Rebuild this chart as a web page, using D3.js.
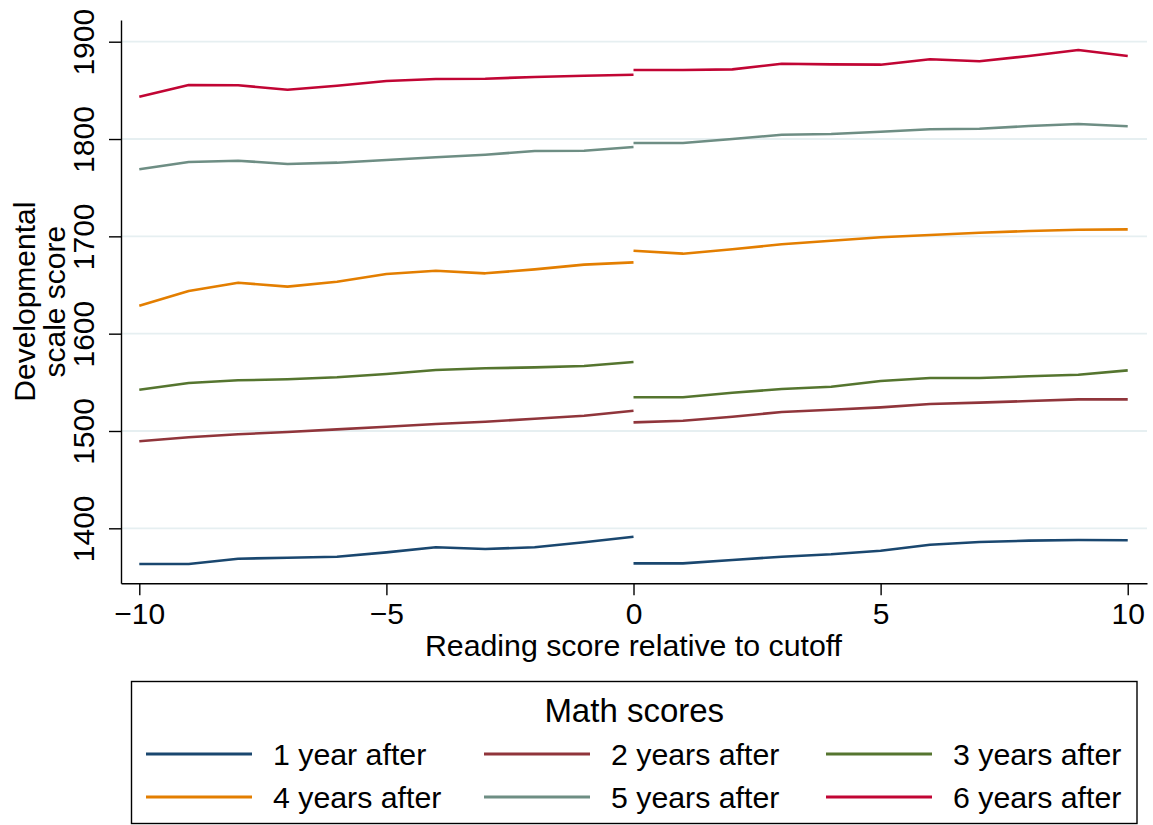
<!DOCTYPE html>
<html>
<head>
<meta charset="utf-8">
<script src="https://cdn.jsdelivr.net/npm/d3@7"></script>
<style>
  html, body { margin: 0; padding: 0; background: #fff; }
  svg { display: block; font-family: "Liberation Sans", Arial, Helvetica, sans-serif; }
</style>
</head>
<body>
<svg id="chart" width="1153" height="825"></svg>
<script>
// ---- Data ----
const xLeft  = [-10, -9, -8, -7, -6, -5, -4, -3, -2, -1, 0];
const xRight = [0, 1, 2, 3, 4, 5, 6, 7, 8, 9, 10];

const y1Left  = [1363.3, 1363.3, 1368.8, 1369.8, 1370.8, 1375.3, 1380.5, 1378.7, 1380.5, 1385.6, 1391.4];
const y1Right = [1364.0, 1364.0, 1367.4, 1370.8, 1373.3, 1377.0, 1383.1, 1385.9, 1387.3, 1388.0, 1387.7];

const y2Left  = [1489.4, 1493.5, 1496.6, 1499.0, 1501.7, 1504.4, 1507.2, 1509.5, 1512.6, 1515.7, 1520.8];
const y2Right = [1508.9, 1510.6, 1514.7, 1519.5, 1521.8, 1524.3, 1527.7, 1529.1, 1530.8, 1532.5, 1532.5];

const y3Left  = [1542.4, 1549.3, 1552.1, 1553.1, 1555.2, 1558.6, 1562.7, 1564.4, 1565.4, 1566.8, 1570.9];
const y3Right = [1534.6, 1534.6, 1539.3, 1543.1, 1545.5, 1551.4, 1554.4, 1554.4, 1556.2, 1557.8, 1562.3];

const y4Left  = [1628.7, 1643.8, 1652.4, 1648.3, 1653.4, 1661.3, 1664.7, 1662.0, 1666.1, 1670.9, 1673.3];
const y4Right = [1685.2, 1682.2, 1686.7, 1691.8, 1695.5, 1699.0, 1701.4, 1703.7, 1705.5, 1706.8, 1707.2];

const y5Left  = [1768.9, 1776.4, 1777.7, 1774.3, 1775.7, 1778.4, 1781.2, 1783.9, 1787.7, 1788.0, 1791.8];
const y5Right = [1795.9, 1795.9, 1800.0, 1804.4, 1805.2, 1807.5, 1810.0, 1810.6, 1813.4, 1815.4, 1813.1];

const y6Left  = [1843.5, 1855.5, 1855.2, 1850.7, 1854.8, 1859.6, 1861.7, 1862.0, 1863.7, 1865.0, 1866.1];
const y6Right = [1870.9, 1870.9, 1871.6, 1877.4, 1876.7, 1876.4, 1881.9, 1879.9, 1885.3, 1891.5, 1885.3];

const seriesNames = ["1 year after", "2 years after", "3 years after",
                     "4 years after", "5 years after", "6 years after"];
const seriesColors = ["#1a476f", "#90353b", "#55752f", "#e37e00", "#6e8e84", "#c10534"];

const xTicks = [-10, -5, 0, 5, 10];
const yTicks = [1400, 1500, 1600, 1700, 1800, 1900];

const xTitle = "Reading score relative to cutoff";
const yTitleLines = ["Developmental", "scale score"];
const legendTitle = "Math scores";

// ---- Build ----
const leftSeries  = [y1Left, y2Left, y3Left, y4Left, y5Left, y6Left];
const rightSeries = [y1Right, y2Right, y3Right, y4Right, y5Right, y6Right];

const svg = d3.select("#chart");

const plot = { left: 121, right: 1147, top: 20, bottom: 583.3 };

const x = d3.scaleLinear().domain([-10.37, 10.39]).range([plot.left, plot.right]);
const y = d3.scaleLinear().domain([1343.5, 1922.3]).range([plot.bottom, plot.top]);

// grid
svg.append("g")
  .selectAll("line")
  .data(yTicks)
  .join("line")
  .attr("x1", plot.left).attr("x2", plot.right)
  .attr("y1", d => y(d)).attr("y2", d => y(d))
  .attr("stroke", "#e6eff1").attr("stroke-width", 1.8);

// lines
const line = d3.line().x(d => x(d[0])).y(d => y(d[1]));
seriesNames.forEach((name, i) => {
  [[xLeft, leftSeries[i]], [xRight, rightSeries[i]]].forEach(([xs, ys]) => {
    svg.append("path")
      .datum(xs.map((v, j) => [v, ys[j]]))
      .attr("d", line)
      .attr("fill", "none")
      .attr("stroke", seriesColors[i])
      .attr("stroke-width", 2.6)
      .attr("stroke-linejoin", "round");
  });
});

// x axis
const gx = svg.append("g")
  .attr("transform", `translate(0,${plot.bottom})`)
  .call(d3.axisBottom(x).tickValues(xTicks).tickSize(12).tickSizeOuter(0).tickPadding(4));
gx.select(".domain").attr("stroke", "#000").attr("stroke-width", 1.4);
gx.selectAll(".tick line").attr("stroke", "#000").attr("stroke-width", 1.4);
gx.selectAll(".tick text")
  .attr("font-size", 30).attr("fill", "#000")
  .attr("font-family", "Liberation Sans, Arial, sans-serif")
  .attr("dy", 0).attr("y", 41);

// y axis
const gy = svg.append("g")
  .attr("transform", `translate(${plot.left},0)`)
  .call(d3.axisLeft(y).tickValues(yTicks).tickSize(12).tickSizeOuter(0).tickFormat(d3.format("d")));
gy.select(".domain").attr("stroke", "#000").attr("stroke-width", 1.4);
gy.selectAll(".tick line").attr("stroke", "#000").attr("stroke-width", 1.4);
gy.selectAll(".tick text")
  .attr("font-size", 30).attr("fill", "#000")
  .attr("font-family", "Liberation Sans, Arial, sans-serif")
  .attr("x", 0).attr("dy", 0).attr("y", 0)
  .attr("text-anchor", "middle")
  .attr("transform", "translate(-27,0) rotate(-90)");

// axis titles
svg.append("text")
  .attr("x", (plot.left + plot.right) / 2 - 0.5).attr("y", 656)
  .attr("text-anchor", "middle").attr("font-size", 30.3).attr("fill", "#000")
  .text(xTitle);

const yMid = (plot.top + plot.bottom) / 2;
yTitleLines.forEach((t, i) => {
  svg.append("text")
    .attr("transform", `translate(${35 + i * 30},${yMid}) rotate(-90)`)
    .attr("text-anchor", "middle").attr("font-size", 30).attr("fill", "#000")
    .text(t);
});

// legend
const lg = { left: 131.5, right: 1137, top: 681.5, bottom: 823.5 };
svg.append("rect")
  .attr("x", lg.left).attr("y", lg.top)
  .attr("width", lg.right - lg.left).attr("height", lg.bottom - lg.top)
  .attr("fill", "#fff").attr("stroke", "#000").attr("stroke-width", 1.4);

svg.append("text")
  .attr("x", (lg.left + lg.right) / 2).attr("y", 722)
  .attr("text-anchor", "middle").attr("font-size", 33).attr("fill", "#000")
  .text(legendTitle);

const colX = [146, 484, 826];
const rowY = [754, 797];
seriesNames.forEach((name, i) => {
  const cx = colX[i % 3], cy = rowY[Math.floor(i / 3)];
  svg.append("line")
    .attr("x1", cx).attr("x2", cx + 106)
    .attr("y1", cy).attr("y2", cy)
    .attr("stroke", seriesColors[i]).attr("stroke-width", 2.8);
  svg.append("text")
    .attr("x", cx + 127).attr("y", cy + 11)
    .attr("font-size", 30.3).attr("fill", "#000")
    .text(name);
});
</script>
</body>
</html>
